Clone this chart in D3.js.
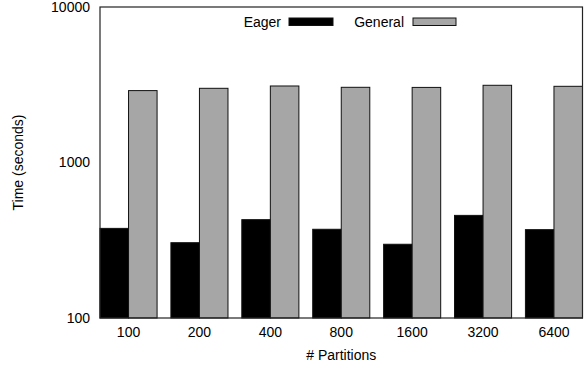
<!DOCTYPE html>
<html>
<head>
<meta charset="utf-8">
<script src="https://cdn.jsdelivr.net/npm/d3@7"></script>
<style>
  body { margin: 0; background: #fff; }
  text { font-family: "Liberation Sans", Arial, sans-serif; fill: #000; }
</style>
</head>
<body>
<svg id="chart" width="587" height="369"></svg>
<script>
// data
var partitions = ["100", "200", "400", "800", "1600", "3200", "6400"];
var eager = [377, 305, 429, 372, 298, 457, 370];
var general = [2900, 3000, 3105, 3045, 3040, 3137, 3090];
var yTicks = [100, 1000, 10000];
var seriesNames = ["Eager", "General"];
var seriesColors = ["#000000", "#a6a6a6"];

var svg = d3.select("#chart"),
    margin = {top: 7, right: 4.5, bottom: 51, left: 100},
    width = +svg.attr("width") - margin.left - margin.right,
    height = +svg.attr("height") - margin.top - margin.bottom;

var g = svg.append("g")
    .attr("transform", "translate(" + margin.left + "," + margin.top + ")");

// groups
var x = d3.scaleBand().domain(partitions).range([0, width])
    .paddingInner(0.195).paddingOuter(0);
var x1 = d3.scaleBand().domain(seriesNames).range([0, x.bandwidth()]);
var y = d3.scaleLog().domain([100, 10000]).range([height, 0]);

var rows = partitions.map(function (p, i) {
    return {label: p, values: [eager[i], general[i]]};
});

var grp = g.selectAll(".grp")
    .data(rows)
    .enter().append("g")
    .attr("class", "grp")
    .attr("transform", function (d) { return "translate(" + x(d.label) + ",0)"; });

grp.selectAll("rect")
    .data(function (d) {
        return d.values.map(function (v, k) { return {name: seriesNames[k], value: v, k: k}; });
    })
    .enter().append("rect")
    .attr("x", function (d) { return x1(d.name); })
    .attr("y", function (d) { return y(d.value); })
    .attr("width", x1.bandwidth())
    .attr("height", function (d) { return height - y(d.value); })
    .style("fill", function (d) { return seriesColors[d.k]; })
    .style("stroke", "#111")
    .style("stroke-width", 1);

// frame
g.append("rect")
    .attr("x", 0).attr("y", 0)
    .attr("width", width).attr("height", height)
    .style("fill", "none")
    .style("stroke", "#222")
    .style("stroke-width", 1.2);

// axes (labels only, no tick marks)
var yAxis = g.append("g")
    .call(d3.axisLeft(y).tickValues(yTicks).tickSize(0).tickPadding(10)
        .tickFormat(d3.format("d")));
yAxis.select(".domain").remove();
yAxis.selectAll("text").style("font-size", "14px").style("font-family", null);

var xAxis = g.append("g")
    .attr("transform", "translate(0," + height + ")")
    .call(d3.axisBottom(x).tickSize(0).tickPadding(9));
xAxis.select(".domain").remove();
xAxis.selectAll("text").style("font-size", "14px").style("font-family", null);

svg.append("text")
    .attr("x", margin.left + width / 2)
    .attr("y", 360)
    .attr("text-anchor", "middle")
    .style("font-size", "14px")
    .text("# Partitions");

svg.append("text")
    .attr("transform", "translate(23," + (margin.top + height / 2) + ") rotate(-90)")
    .attr("text-anchor", "middle")
    .style("font-size", "14px")
    .text("Time (seconds)");

// legend
var legend = [
    {name: seriesNames[0], color: seriesColors[0], tx: 281, rx: 289, rw: 44},
    {name: seriesNames[1], color: seriesColors[1], tx: 404, rx: 413, rw: 43}
];
legend.forEach(function (l) {
    svg.append("text")
        .attr("x", l.tx).attr("y", 27)
        .attr("text-anchor", "end")
        .style("font-size", "14px")
        .text(l.name);
    svg.append("rect")
        .attr("x", l.rx).attr("y", 18)
        .attr("width", l.rw).attr("height", 7.5)
        .style("fill", l.color)
        .style("stroke", "#111")
        .style("stroke-width", 1);
});
</script>
</body>
</html>
